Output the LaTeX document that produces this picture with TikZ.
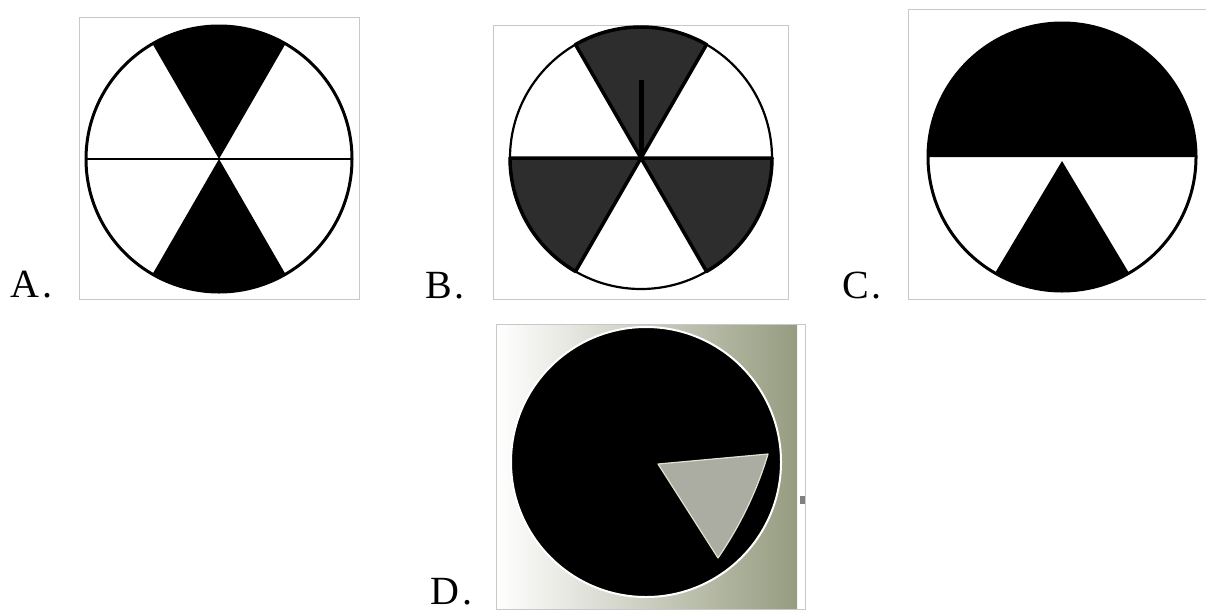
\documentclass[tikz,border=0pt]{standalone}
\usepackage{fontspec}
\setmainfont{Liberation Serif}
\usetikzlibrary{calc}
\definecolor{framegray}{RGB}{200,200,200}
\definecolor{darkfill}{RGB}{45,45,45}
\definecolor{photogreen}{RGB}{150,156,128}
\definecolor{wedgegray}{RGB}{172,173,162}
\definecolor{wedgeedge}{RGB}{225,225,210}
\begin{document}
\begin{tikzpicture}[x=1pt,y=-1pt,
  frame/.style={draw=framegray,line width=1pt},
  lbl/.style={anchor=base west,inner sep=0pt,font=\fontsize{40}{40}\selectfont},
  disc/.style={circle,inner sep=0pt,outer sep=0pt,minimum size=#1}]
\useasboundingbox (0,0) rectangle (1206,611);

% ---------- A ----------
\draw[frame] (79,17) rectangle (359,299);
\coordinate (Acen) at (219,159);
\fill (Acen) -- ++(60:133pt) arc[start angle=60,end angle=120,radius=133pt] -- cycle;
\fill (Acen) -- ++(240:133pt) arc[start angle=240,end angle=300,radius=133pt] -- cycle;
\node[disc=266pt,draw,line width=3pt] (Ac) at (Acen) {};
\draw[line width=2.5pt] (Ac.west) -- (Ac.east);
\node[lbl] (La) at (10,297) {A\kern3pt.};

% ---------- B ----------
\draw[frame] (493,25) rectangle (788,299);
\coordinate (Bcen) at (641,158);
\foreach \a in {60,180,300}{
  \filldraw[fill=darkfill,draw=black,line width=3.5pt,line join=round]
    (Bcen) -- ++(\a:131pt) arc[start angle=\a,end angle=\a+60,radius=131pt] -- cycle;
}
\node[disc=262pt,draw,line width=2.2pt] (Bc) at (Bcen) {};
\coordinate (Btip) at (641,80);
\draw[line width=5pt] (Bcen) -- (Btip);
\node[lbl] (Lb) at (425,298) {B\kern3pt.};

% ---------- C ----------
\draw[frame] (1210,9) -- (908,9) -- (908,299) -- (1210,299);
\coordinate (Ccen) at (1062,157);
\coordinate (Cvert) at (1062,161);
\fill (Ccen) ++(0:134pt) arc[start angle=0,end angle=180,radius=134pt] -- cycle;
\fill (Cvert) -- ($(Ccen)+(240:134pt)$) arc[start angle=240,end angle=300,radius=134pt] -- cycle;
\node[disc=268pt,draw,line width=3pt] (Cc) at (Ccen) {};
\node[lbl] (Lc) at (842,298) {C\kern3pt.};

% ---------- D ----------
\shade[left color=white,middle color=white,right color=photogreen] (497,325) rectangle (797,608);
\draw[frame] (496,324) rectangle (805,609);
\node[disc=270pt,draw=white,line width=2pt,fill=black] (Dc) at (646,462) {};
\coordinate (Dvert) at (658,464);
\coordinate (Dw1) at (768,454);
\coordinate (Dw2) at (718,558);
\filldraw[fill=wedgegray,draw=wedgeedge,line width=1.2pt,line join=round]
  (Dvert) -- (Dw1) .. controls (757,491) and (740,526) .. (Dw2) -- cycle;
\fill[gray] (800,496) rectangle (805,504);
\node[lbl] (Ld) at (430,604) {D\kern3pt.};
\end{tikzpicture}
\end{document}
